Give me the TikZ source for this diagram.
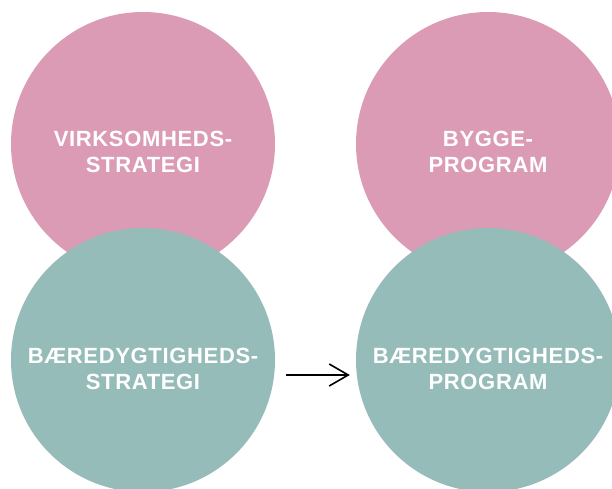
\documentclass[tikz,border=0pt]{standalone}
\usepackage{fontspec}
\newfontfamily\lblfont[LetterSpace=3]{Liberation Sans}
\usetikzlibrary{positioning}
\usetikzlibrary{arrows.meta}
\definecolor{rosa}{HTML}{DB9BB4}
\definecolor{mint}{HTML}{95BCB8}

\begin{document}
\begin{tikzpicture}[x=1pt,y=1pt,
  blob/.style={circle,minimum size=264pt,inner sep=0pt,fill=#1},
  txt/.style={text=white,align=center,font=\lblfont\bfseries\fontsize{22}{26}\selectfont}]
\useasboundingbox (0,0) rectangle (612,488);
% top row
\node[blob=rosa] (vstrat) at (143,344) {};
\node[blob=rosa] (bprog) at (488,344) {};
% bottom row
\node[blob=mint] (bstrat) at (143,128) {};
\node[blob=mint] (bbprog) at (488,128) {};

\node[txt] (vstrat-t) at ([yshift=-8pt]vstrat.center) {VIRKSOMHEDS-\\STRATEGI};
\node[txt] (bprog-t) at ([yshift=-8pt]bprog.center) {BYGGE-\\PROGRAM};
\node[txt] (bstrat-t) at ([yshift=-9pt]bstrat.center) {BÆREDYGTIGHEDS-\\STRATEGI};
\node[txt] (bbprog-t) at ([yshift=-9pt]bbprog.center) {BÆREDYGTIGHEDS-\\PROGRAM};

\draw[line width=1.6pt,-{Straight Barb[length=19pt,width=22pt,line width=1.6pt]}]
  ([xshift=11pt,yshift=-15pt]bstrat.east) -- ([xshift=-6pt,yshift=-15pt]bbprog.west);
\end{tikzpicture}
\end{document}
